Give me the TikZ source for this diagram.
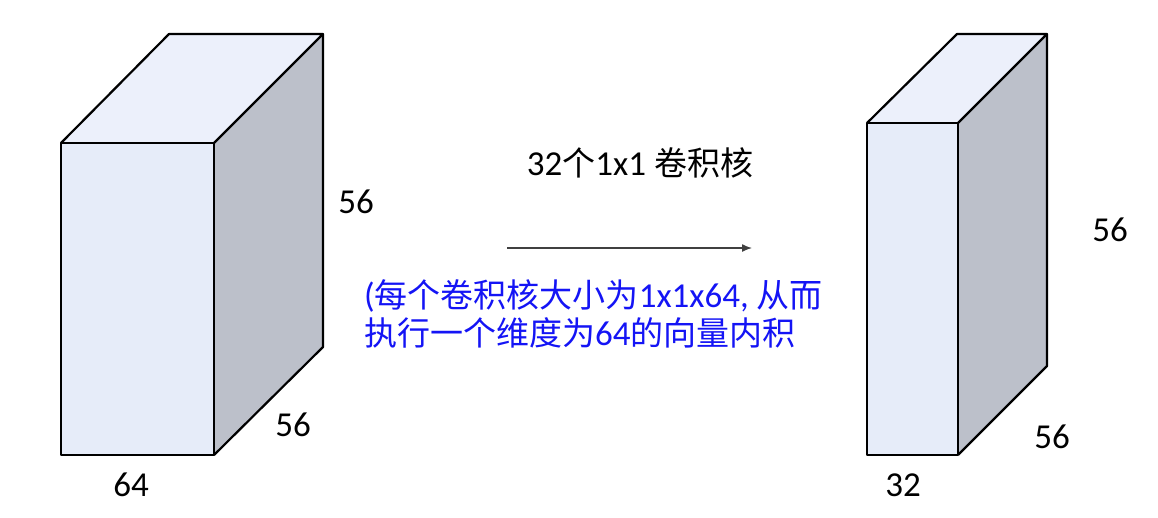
\documentclass[tikz,border=0pt]{standalone}
\usepackage{fontspec}
\setmainfont{Carlito}
\newfontfamily\cjkraw{Noto Sans CJK SC}
\newcommand{\cjk}{\cjkraw\fontsize{33}{38}\selectfont}
\usetikzlibrary{arrows.meta}
\definecolor{frontc}{HTML}{E6ECF9}
\definecolor{topc}{HTML}{ECF0FB}
\definecolor{sidec}{HTML}{BCC0CA}
\definecolor{bluetxt}{HTML}{1414F5}
\definecolor{arrowc}{HTML}{404040}
\tikzset{
  edgeline/.style={draw=black, line width=2.2pt, line join=round},
  dimlabel/.style={inner sep=0pt, font=\fontsize{35}{40}\selectfont},
  titlelabel/.style={inner sep=0pt, anchor=base, font=\fontsize{35}{40}\selectfont},
  bluelabel/.style={inner sep=0pt, anchor=base west, text=bluetxt, font=\fontsize{35}{40}\selectfont},
}
\begin{document}
\begin{tikzpicture}[x=1pt,y=-1pt]
\useasboundingbox (0,0) rectangle (1158,517);
% left cuboid
\path[fill=frontc] (61,143) rectangle (214,455);
\path[fill=topc] (61,143) -- (169,34) -- (323,34) -- (214,143) -- cycle;
\path[fill=sidec] (214,143) -- (323,34) -- (323,347) -- (214,455) -- cycle;
\draw[edgeline] (61,143) rectangle (214,455);
\draw[edgeline] (61,143) -- (169,34) -- (323,34) -- (214,143);
\draw[edgeline] (323,34) -- (323,347) -- (214,455);
% right cuboid
\path[fill=frontc] (867,123) rectangle (958,455);
\path[fill=topc] (867,123) -- (957,34) -- (1047,34) -- (958,123) -- cycle;
\path[fill=sidec] (958,123) -- (1047,34) -- (1047,366) -- (958,455) -- cycle;
\draw[edgeline] (867,123) rectangle (958,455);
\draw[edgeline] (867,123) -- (957,34) -- (1047,34) -- (958,123);
\draw[edgeline] (1047,34) -- (1047,366) -- (958,455);
% labels
\node[dimlabel] (lh) at (356,202) {56};
\node[dimlabel] (ld) at (293,425) {56};
\node[dimlabel] (lw) at (131,485) {64};
\node[dimlabel] (rh) at (1110,230) {56};
\node[dimlabel] (rd) at (1052,437) {56};
\node[dimlabel] (rw) at (903,485) {32};
% title
\node[titlelabel] (title) at (640,175) {32{\cjk 个}1x1 {\cjk 卷积核}};
% arrow
\coordinate (as) at (507,248);
\coordinate (ae) at (752,248);
\draw[arrowc, line width=1.4pt, -{Latex[length=10pt,width=8pt]}] (as) -- (ae);
% blue text
\node[bluelabel] (b1) at (364,307) {({\cjk 每个卷积核大小为}1x1x64, {\cjk 从而}};
\node[bluelabel] (b2) at (364,345) {{\cjk 执行一个维度为}64{\cjk 的向量内积}};
\end{tikzpicture}
\end{document}
